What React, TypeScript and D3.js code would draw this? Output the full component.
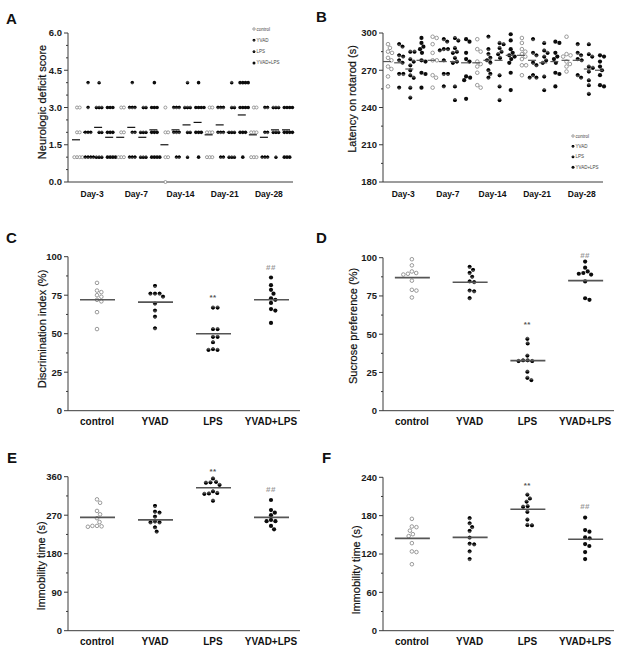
import React from "react";
import * as d3 from "d3";

const groups = ["control", "YVAD", "LPS", "YVAD+LPS"];
const days = ["Day-3", "Day-7", "Day-14", "Day-21", "Day-28"];

// Panel A: neurologic deficit score, columns = day x group
const aScores: number[][] = [
  [3, 3, 2, 2, 1, 1, 1, 1],
  [4, 3, 2, 2, 2, 1, 1, 1, 1],
  [4, 3, 3, 3, 2, 2, 1, 1, 1],
  [3, 3, 3, 2, 2, 2, 1, 1, 1, 1],
  [3, 3, 2, 2, 1, 1, 1],
  [4, 3, 3, 3, 2, 2, 1, 1, 1],
  [3, 3, 2, 2, 2, 1, 1, 1],
  [4, 3, 3, 3, 2, 2, 2, 1, 1, 1, 1],
  [3, 2, 2, 1, 1, 0],
  [3, 3, 3, 2, 2, 2, 1, 1],
  [4, 3, 3, 3, 2, 2, 1],
  [4, 3, 3, 3, 3, 2, 2, 2, 1],
  [3, 3, 2, 2, 2, 1, 1, 1],
  [3, 3, 3, 2, 2, 2, 1, 1],
  [4, 3, 3, 2, 2, 2, 1, 1, 1],
  [4, 4, 4, 4, 3, 3, 3, 3, 2, 2, 2, 1],
  [3, 3, 2, 2, 2, 1, 1, 1],
  [3, 3, 2, 2, 1, 1, 1],
  [3, 3, 3, 2, 2, 2, 1],
  [3, 3, 3, 3, 2, 2, 2, 2, 1, 1, 1],
];
const aMeans = [1.7, 2.0, 2.2, 1.8, 1.8, 2.2, 1.8, 2.1, 1.5, 2.1, 2.3, 2.4, 1.9, 2.3, 2.0, 2.7, 1.9, 1.8, 2.1, 2.1];
const aTicks = [0, 1.5, 3, 4.5, 6];

// Panel B: latency on rotarod (s)
const bLatency: number[][] = [
  [291, 288, 285, 284, 280, 278, 273, 271, 265, 257],
  [291, 289, 282, 281, 278, 276, 267, 267, 256],
  [285, 285, 279, 277, 274, 270, 266, 264, 256, 248],
  [296, 292, 289, 287, 284, 278, 277, 268, 267, 256],
  [297, 296, 291, 284, 278, 278, 266, 264, 256],
  [295, 293, 287, 287, 286, 278, 267, 267, 257],
  [296, 294, 288, 285, 284, 280, 277, 276, 257, 246],
  [295, 293, 284, 279, 277, 265, 264, 262, 247],
  [295, 287, 285, 277, 275, 273, 268, 258, 256],
  [297, 287, 283, 280, 278, 276, 270, 267, 264],
  [292, 291, 288, 285, 283, 280, 266, 257, 246],
  [299, 294, 287, 284, 282, 281, 279, 276, 268, 254],
  [296, 292, 287, 285, 283, 281, 279, 274, 274, 266],
  [295, 284, 282, 276, 274, 266, 264, 264],
  [292, 286, 284, 281, 278, 276, 265, 254],
  [293, 292, 284, 281, 279, 276, 268, 267, 257],
  [297, 283, 282, 281, 277, 275, 273, 269],
  [291, 284, 282, 279, 278, 266, 264],
  [291, 283, 281, 273, 272, 269, 262, 258, 251],
  [282, 281, 277, 273, 270, 266, 258, 257],
];
const bMeans = [277, 276, 271, 278, 278, 277, 277, 276, 276, 278, 278, 282, 282, 278, 276, 277, 278, 278, 271, 270];
const bTicks = [180, 210, 240, 270, 300];

// Panel C: discrimination index (%)
const cValues: number[][] = [
  [83, 78, 77, 75, 74, 72, 71, 64, 53],
  [81, 76, 76, 76, 74, 69.5, 65, 61, 53.5],
  [67, 67, 53, 53, 48, 48, 44.5, 40, 39.5, 39.5],
  [86.5, 81.5, 78.5, 76, 73, 72, 70, 66, 65, 57],
];
const cMeans = [72, 70.5, 50, 72];
const cSig = [null, null, 75, 94];
const cTicks = [0, 25, 50, 75, 100];

// Panel D: sucrose preference (%)
const dValues: number[][] = [
  [99, 95, 91, 90, 89.5, 89, 85, 79, 78.5, 74],
  [94, 92, 90, 87.5, 84.5, 84, 78.5, 78, 73.5],
  [47, 44, 36, 33, 33, 32.5, 32.5, 25.5, 21.5, 20],
  [97.5, 93.5, 91, 90, 89.5, 89, 84.5, 73.5, 72.5],
];
const dMeans = [87, 84, 32.7, 85];
const dSig = [null, null, 57.5, 103];
const dTicks = [0, 25, 50, 75, 100];

// Panel E: immobility time (s)
const eValues: number[][] = [
  [307, 299, 280, 272, 263, 254, 245, 244, 243, 245],
  [291.5, 278, 276, 266.5, 255, 253, 253, 241.5, 231.5],
  [356, 348, 347, 346, 341, 326, 322, 321, 320, 304],
  [305.5, 282, 276, 270, 259, 256, 256, 245, 237],
];
const eMeans = [265, 259, 334, 265];
const eSig = [null, null, 377, 334];
const eTicks = [0, 90, 180, 270, 360];

// Panel F: immobility time (s)
const fValues: number[][] = [
  [175, 163, 162, 156.5, 151, 148, 137, 124, 123, 104],
  [176, 168, 162, 156, 145.5, 136, 135, 124, 112],
  [213, 207, 202, 195, 194, 186, 174, 165.5, 165],
  [177, 157.5, 155, 146, 144.5, 135.5, 132.5, 123, 112],
];
const fMeans = [144.5, 146, 190, 143];
const fSig = [null, null, 229.5, 197];
const fTicks = [0, 60, 120, 180, 240];

const FONT = "'Liberation Sans', Arial, Helvetica, sans-serif";
const AXIS = "#3a3a3a";

// simple beeswarm: x offsets so markers do not overlap
function swarm(ys: number[], d: number): number[] {
  const order = ys.map((y, i) => i).sort((a, b) => ys[a] - ys[b]);
  const placed: { x: number; y: number }[] = [];
  const out = new Array(ys.length).fill(0);
  for (const i of order) {
    const y = ys[i];
    const intervals: [number, number][] = [];
    for (const p of placed) {
      const dy = Math.abs(p.y - y);
      if (dy < d) {
        const w = Math.sqrt(d * d - dy * dy);
        intervals.push([p.x - w, p.x + w]);
      }
    }
    const cands = [0];
    intervals.forEach(([a, b]) => {
      cands.push(a, b);
    });
    cands.sort((a, b) => Math.abs(a) - Math.abs(b) || b - a);
    let chosen = 0;
    for (const c of cands) {
      if (intervals.every(([a, b]) => c <= a + 1e-6 || c >= b - 1e-6)) {
        chosen = c;
        break;
      }
    }
    placed.push({ x: chosen, y });
    out[i] = chosen;
  }
  return out;
}

function Marker({ x, y, g, r }: { x: number; y: number; g: number; r: number }) {
  if (g === 0)
    return <circle cx={x} cy={y} r={r - 0.3} fill="#fff" stroke="#8f8f8f" strokeWidth={0.9} />;
  if (g === 3) return <circle cx={x} cy={y} r={r} fill="#0c0c0c" />;
  const rr = r * 0.92;
  const sweep = g === 1 ? 1 : 0;
  return (
    <g>
      <circle cx={x} cy={y} r={rr - 0.3} fill="#4a4a4a" stroke="#111" strokeWidth={0.6} />
      <path d={`M${x - rr},${y} A${rr},${rr} 0 0 ${sweep} ${x + rr},${y} Z`} fill="#000" />
    </g>
  );
}

function YAxis({ x, y, ticks, minor, fmt }: { x: number; y: d3.ScaleLinear<number, number>; ticks: number[]; minor: number[]; fmt: (v: number) => string }) {
  const [r0, r1] = y.range();
  return (
    <g>
      <line x1={x} x2={x} y1={r0} y2={r1} stroke={AXIS} strokeWidth={1} />
      {ticks.map((t) => (
        <g key={t}>
          <line x1={x - 4} x2={x} y1={y(t)} y2={y(t)} stroke={AXIS} strokeWidth={1} />
          <text x={x - 6} y={y(t)} dy="0.35em" textAnchor="end" fontSize={9.5} fontWeight="bold" fill="#1a1a1a" fontFamily={FONT}>
            {fmt(t)}
          </text>
        </g>
      ))}
      {minor.map((t) => (
        <line key={"m" + t} x1={x - 2} x2={x} y1={y(t)} y2={y(t)} stroke={AXIS} strokeWidth={1} />
      ))}
    </g>
  );
}

function Title({ x, y, text }: { x: number; y: number; text: string }) {
  return (
    <text transform={`translate(${x},${y}) rotate(-90)`} textAnchor="middle" dy="0.35em" fontSize={11} fill="#111"
      stroke="#111" strokeWidth={0.2} fontFamily={FONT}>
      {text}
    </text>
  );
}

function Letter({ x, y, text }: { x: number; y: number; text: string }) {
  return (
    <text x={x} y={y} fontSize={15} fontWeight="bold" fill="#111" fontFamily={FONT}>
      {text}
    </text>
  );
}

function Legend({ x, y, step }: { x: number; y: number; step: number }) {
  return (
    <g>
      {groups.map((g, i) => (
        <g key={g}>
          <Marker x={x} y={y + i * step} g={i} r={1.5} />
          <text x={x + 2.5} y={y + i * step} dy="0.35em" fontSize={4.5} fill="#444" fontFamily={FONT}>
            {g}
          </text>
        </g>
      ))}
    </g>
  );
}

function DayPanel({
  data, means, ticks, minor, axisX, xEnd, yTop, yBottom, colRange, letter, letterPos, title, titlePos, legendPos, r, d, meanHalf, meanColor, fmt,
}: any) {
  const cols = d3.range(20);
  const x = d3.scalePoint<number>().domain(cols).range(colRange);
  const y = d3.scaleLinear().domain([ticks[0], ticks[ticks.length - 1]]).range([yBottom, yTop]);
  return (
    <g>
      <Letter x={letterPos[0]} y={letterPos[1]} text={letter} />
      <YAxis x={axisX} y={y} ticks={ticks} minor={minor} fmt={fmt} />
      <line x1={axisX} x2={xEnd} y1={yBottom} y2={yBottom} stroke={AXIS} strokeWidth={1} />
      <Title x={titlePos[0]} y={titlePos[1]} text={title} />
      {days.map((dname, di) => {
        const cx = d3.mean(groups.map((_, gi) => x(di * 4 + gi) as number)) as number;
        return (
          <text key={dname} x={cx - 1.5} y={yBottom + 15} textAnchor="middle" fontSize={8.5} fontWeight="bold" fill="#111" fontFamily={FONT}>
            {dname}
          </text>
        );
      })}
      {data.map((vals: number[], ci: number) => {
        const g = ci % 4;
        const ys = vals.map((v) => y(v));
        const offs = swarm(ys, d);
        const cx = x(ci) as number;
        return (
          <g key={ci}>
            {vals.map((v, i) => (
              <Marker key={i} x={cx + offs[i]} y={ys[i]} g={g} r={r} />
            ))}
            <line x1={cx - meanHalf - 1} x2={cx + meanHalf - 1} y1={y(means[ci])} y2={y(means[ci])} stroke={meanColor} strokeWidth={1.2} />
          </g>
        );
      })}
      <Legend x={legendPos[0]} y={legendPos[1]} step={legendPos[2]} />
    </g>
  );
}

function GroupPanel({ values, means, sig, ticks, axisX, xEnd, yTop, yBottom, letter, letterPos, title, titlePos }: any) {
  const x = d3.scaleBand<string>().domain(groups).range([axisX, xEnd]);
  const y = d3.scaleLinear().domain([0, ticks[ticks.length - 1]]).range([yBottom, yTop]);
  const minor = ticks.slice(0, -1).map((t: number, i: number) => (t + ticks[i + 1]) / 2);
  return (
    <g>
      <Letter x={letterPos[0]} y={letterPos[1]} text={letter} />
      <YAxis x={axisX} y={y} ticks={ticks} minor={minor} fmt={(v) => String(v)} />
      <line x1={axisX} x2={xEnd} y1={yBottom} y2={yBottom} stroke={AXIS} strokeWidth={1} />
      <Title x={titlePos[0]} y={titlePos[1]} text={title} />
      {groups.map((g, gi) => {
        const cx = (x(g) as number) + x.bandwidth() / 2;
        const ys = values[gi].map((v: number) => y(v));
        const offs = swarm(ys, 4.6);
        return (
          <g key={g}>
            <text x={cx} y={yBottom + 14} textAnchor="middle" fontSize={10} fontWeight="bold" fill="#111" fontFamily={FONT}>
              {g}
            </text>
            {values[gi].map((v: number, i: number) => (
              <Marker key={i} x={cx + offs[i]} y={ys[i]} g={gi} r={2.1} />
            ))}
            <line x1={cx - 17} x2={cx + 18} y1={y(means[gi])} y2={y(means[gi])} stroke="#555" strokeWidth={1.6} />
            {sig[gi] != null && (
              <text x={cx} y={y(sig[gi])} dy="0.55em" textAnchor="middle" fontSize={8} fontWeight="bold" letterSpacing={0.5}
                fill={gi === 2 ? "#555" : "#9a9a9a"} fontFamily={FONT}>
                {gi === 2 ? "**" : "##"}
              </text>
            )}
          </g>
        );
      })}
    </g>
  );
}

export default function App() {
  return (
    <svg width={624} height={652} style={{ position: "absolute", left: 0, top: 0, background: "#fff" }}>
      <rect width={624} height={652} fill="#fff" />
      <DayPanel
        data={aScores} means={aMeans} ticks={aTicks} minor={[0.5, 1, 2, 2.5, 3.5, 4, 5, 5.5]}
        axisX={68} xEnd={293} yTop={33} yBottom={182} colRange={[77, 287]}
        letter="A" letterPos={[6, 24]} title="Neurologic deficit score" titlePos={[42, 102]}
        legendPos={[254, 29, 11.3]} r={1.8} d={2.7} meanHalf={4} meanColor="#111" fmt={(v: number) => v.toFixed(1)}
      />
      <DayPanel
        data={bLatency} means={bMeans} ticks={bTicks} minor={[195, 225, 255, 285]}
        axisX={383} xEnd={603} yTop={33} yBottom={182} colRange={[388, 600]}
        letter="B" letterPos={[316, 22]} title="Latency on rotarod (s)" titlePos={[352, 99]}
        legendPos={[573, 136, 10.4]} r={2.1} d={4.2} meanHalf={4} meanColor="#555" fmt={(v: number) => String(v)}
      />
      <GroupPanel values={cValues} means={cMeans} sig={cSig} ticks={cTicks} axisX={68} xEnd={300} yTop={256.7} yBottom={410.7}
        letter="C" letterPos={[6, 243]} title="Discrimination index (%)" titlePos={[42, 329]} />
      <GroupPanel values={dValues} means={dMeans} sig={dSig} ticks={dTicks} axisX={383} xEnd={614} yTop={257.7} yBottom={410.7}
        letter="D" letterPos={[316, 243]} title="Sucrose preference (%)" titlePos={[353, 326]} />
      <GroupPanel values={eValues} means={eMeans} sig={eSig} ticks={eTicks} axisX={68} xEnd={300} yTop={476.7} yBottom={630.7}
        letter="E" letterPos={[7, 463]} title="Immobility time (s)" titlePos={[41, 566]} />
      <GroupPanel values={fValues} means={fMeans} sig={fSig} ticks={fTicks} axisX={383} xEnd={614} yTop={477.3} yBottom={630.7}
        letter="F" letterPos={[322, 463]} title="Immobility time (s)" titlePos={[356, 570]} />
    </svg>
  );
}
